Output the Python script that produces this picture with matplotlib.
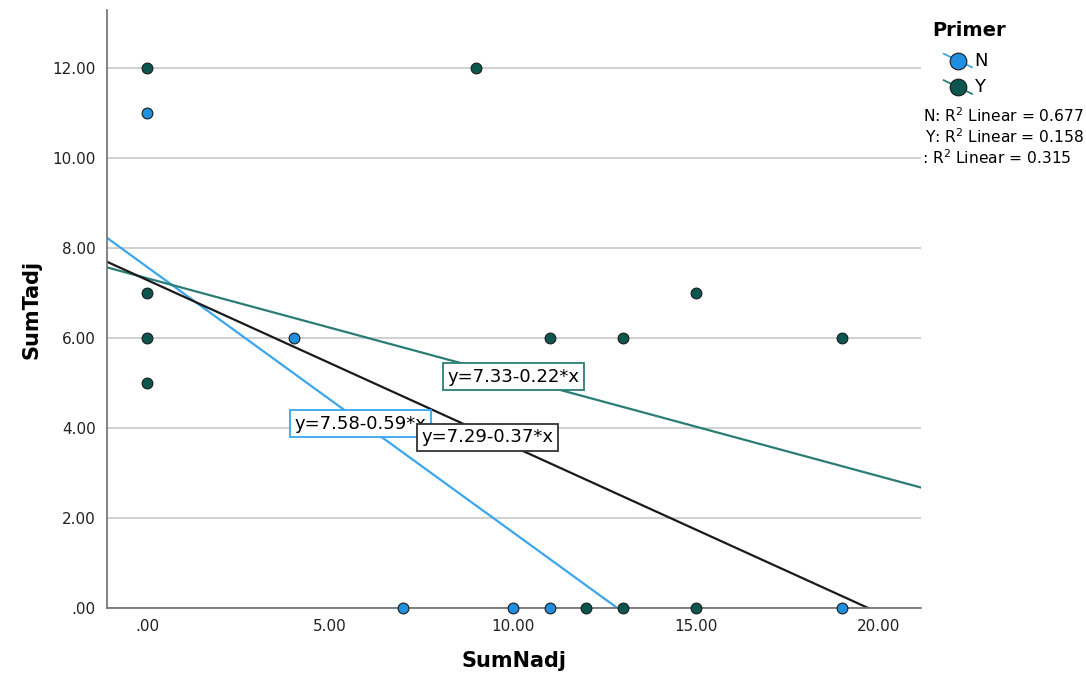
import matplotlib.pyplot as plt
import numpy as np

# Scatter data
n_x = [0, 4, 7, 10, 11, 19]
n_y = [11, 6, 0, 0, 0, 0]
y_x = [0, 9, 0, 0, 0, 11, 13, 15, 19, 12, 13, 15]
y_y = [12, 12, 7, 6, 5, 6, 6, 7, 6, 0, 0, 0]

# Fit lines (intercept, slope) as printed on the chart
fit_n = (7.58, -0.59)
fit_y = (7.33, -0.22)
fit_all = (7.29, -0.37)
r2_labels = ['N: R$^2$ Linear = 0.677', 'Y: R$^2$ Linear = 0.158', ': R$^2$ Linear = 0.315']

col_n = '#1f8fe0'
col_n_line = '#3aa6ee'
col_y = '#0b5750'
col_y_line = '#2a7d74'

fig = plt.figure(figsize=(10.86, 6.8), dpi=100)
ax = fig.add_axes([0.0985, 0.106, 0.7495, 0.879])

xmin, xmax = -1.1, 21.15
ax.set_xlim(xmin, xmax)
ax.set_ylim(0, 13.29)

# Ticks and gridlines
yt = [0, 2, 4, 6, 8, 10, 12]
ax.set_yticks(yt)
ax.set_yticklabels(['.00' if v == 0 else f'{v:.2f}' for v in yt])
xt = [0, 5, 10, 15, 20]
ax.set_xticks(xt)
ax.set_xticklabels(['.00' if v == 0 else f'{v:.2f}' for v in xt])
ax.grid(axis='y', color='#c8c8c8', linewidth=1.2)
ax.set_axisbelow(True)
for s in ['top', 'right']:
    ax.spines[s].set_visible(False)
for s in ['left', 'bottom']:
    ax.spines[s].set_color('#6e6e6e')
    ax.spines[s].set_linewidth(1.2)
ax.tick_params(axis='both', length=0, labelsize=11, colors='#222222', pad=8)

# Fit lines
xs = np.linspace(xmin, xmax, 200)
for (b0, b1), c in [(fit_n, col_n_line), (fit_y, col_y_line), (fit_all, '#1a1a1a')]:
    ax.plot(xs, b0 + b1 * xs, color=c, linewidth=1.6, zorder=2)

# Points
ax.scatter(y_x, y_y, s=60, color=col_y, edgecolor='#1a1a1a', linewidth=0.8, zorder=4, clip_on=False)
ax.scatter(n_x, n_y, s=60, color=col_n, edgecolor='#1a1a1a', linewidth=0.8, zorder=4, clip_on=False)

# Equation labels
box = dict(boxstyle='square,pad=0.25', facecolor='white', linewidth=1.3)
ax.text(8.2, 5.14, f'y={fit_y[0]:.2f}-{abs(fit_y[1]):.2f}*x', fontsize=13, va='center',
        bbox=dict(box, edgecolor=col_y_line), zorder=5)
ax.text(4.02, 4.1, f'y={fit_n[0]:.2f}-{abs(fit_n[1]):.2f}*x', fontsize=13, va='center',
        bbox=dict(box, edgecolor=col_n_line), zorder=5)
ax.text(7.5, 3.8, f'y={fit_all[0]:.2f}-{abs(fit_all[1]):.2f}*x', fontsize=13, va='center',
        bbox=dict(box, edgecolor='#333333'), zorder=6)

ax.set_xlabel('SumNadj', fontsize=15, fontweight='bold', labelpad=12)
ax.set_ylabel('SumTadj', fontsize=15, fontweight='bold', labelpad=8)

# Legend
fig.text(0.858, 0.955, 'Primer', fontsize=14, fontweight='bold', va='center')
for i, (c, lc, lab) in enumerate([(col_n, col_n_line, 'N'), (col_y, col_y_line, 'Y')]):
    yy = 0.911 - i * 0.039
    fig.add_artist(plt.Line2D([0.869, 0.895], [yy + 0.01, yy - 0.01], color=lc, linewidth=1.3))
    fig.add_artist(plt.Line2D([0.882], [yy], marker='o', markersize=12, color=c,
                              markeredgecolor='#1a1a1a', markeredgewidth=0.8))
    fig.text(0.897, yy, lab, fontsize=13, va='center')
for i, t in enumerate(r2_labels):
    if i < 2:
        fig.text(0.998, 0.83 - i * 0.031, t, fontsize=11.2, va='center', ha='right')
    else:
        fig.text(0.849, 0.83 - i * 0.031, t, fontsize=11.2, va='center', ha='left')

fig.savefig('out.png', dpi=100)
